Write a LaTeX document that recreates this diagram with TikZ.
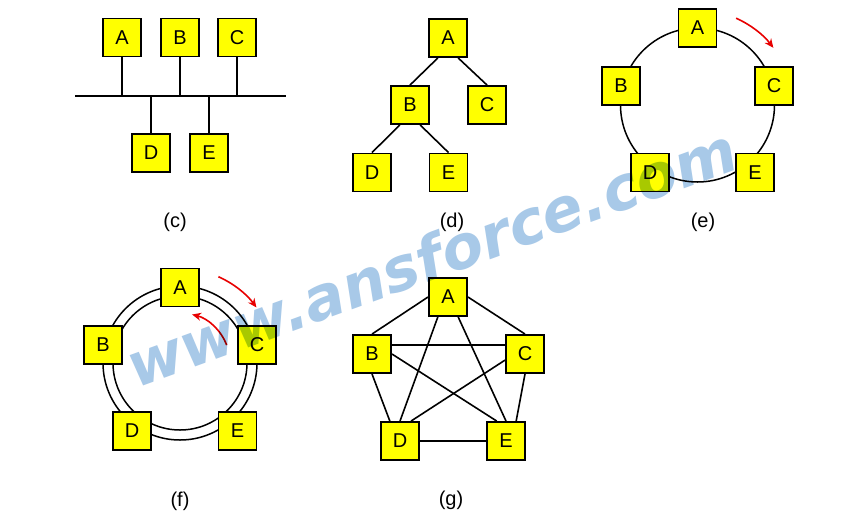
\documentclass[tikz,border=0pt]{standalone}
\usepackage{fontspec}
\setmainfont{Liberation Sans}
\newfontfamily\wmfont{DejaVu Sans}
\usetikzlibrary{arrows.meta}
\definecolor{boxyellow}{RGB}{255,255,0}
\definecolor{wmblue}{RGB}{168,201,232}
\definecolor{arrred}{RGB}{232,0,0}
\begin{document}
\begin{tikzpicture}[x=1pt,y=-1pt,
  nodebox/.style={draw=black, fill=boxyellow, line width=1.9pt, minimum width=38pt, minimum height=38pt, inner sep=0pt, font=\fontsize{20}{24}\selectfont},
  link/.style={line width=1.6pt},
  ring/.style={line width=1.5pt},
  caption/.style={font=\fontsize{20}{24}\selectfont},
  flow/.style={draw=arrred, line width=1.6pt, -{Stealth[length=9pt,width=8pt]}},
  watermark/.style={font=\wmfont\bfseries\itshape\fontsize{60.5}{66}\selectfont, text=wmblue, rotate=20, anchor=base}]
\useasboundingbox (0,0) rectangle (861,520);
\fill[white] (0,0) rectangle (861,520);

% (c) bus
\coordinate (busL) at (75,96);
\coordinate (busR) at (286,96);
\draw[link] (busL) -- (busR);
\node[nodebox] (cA) at (122,37.5) {A};
\node[nodebox] (cB) at (180,37.5) {B};
\node[nodebox] (cC) at (237,37.5) {C};
\node[nodebox] (cD) at (151,153) {D};
\node[nodebox] (cE) at (209,153) {E};
\foreach \n in {cA,cB,cC,cD,cE} \draw[link] (\n) -- (\n |- busL);
\node[caption] (capc) at (175,222) {(c)};

% (d) tree
\node[nodebox] (dA) at (448,38) {A};
\node[nodebox] (dB) at (410,105) {B};
\node[nodebox] (dC) at (487,105) {C};
\node[nodebox] (dD) at (372,172.5) {D};
\node[nodebox] (dE) at (448.5,172.5) {E};
\draw[link] (dA.243) -- (dB.north);
\draw[link] (dA.297) -- (dC.north);
\draw[link] (dB.243) -- (dD.north);
\draw[link] (dB.297) -- (dE.north);
\node[caption] (capd) at (452,222) {(d)};

% (e) ring
\draw[ring] (697.5,105) circle[radius=77];
\node[nodebox] (eA) at (697.5,28) {A};
\node[nodebox] (eB) at (621,86) {B};
\node[nodebox] (eC) at (774,86) {C};
\node[nodebox] (eD) at (650,172.5) {D};
\node[nodebox] (eE) at (755,172.5) {E};
\draw[flow] (736.1,18.2) arc[start angle=-66, end angle=-37, radius=95];
\node[caption] (cape) at (703,222) {(e)};

% (f) dual ring
\draw[ring] (180,363) circle[radius=77];
\draw[ring] (180,363) circle[radius=67];
\node[nodebox] (fA) at (180,287.5) {A};
\node[nodebox] (fB) at (103,345) {B};
\node[nodebox] (fC) at (257,345) {C};
\node[nodebox] (fD) at (132,431) {D};
\node[nodebox] (fE) at (237.5,431) {E};
\draw[flow] (218.4,276.7) arc[start angle=-66, end angle=-36, radius=94.5];
\draw[flow] (226.7,345.1) arc[start angle=-21, end angle=-76, radius=50];
\node[caption] (capf) at (180,501) {(f)};

% (g) mesh
\node[nodebox] (gA) at (448,297) {A};
\node[nodebox] (gB) at (372,354) {B};
\node[nodebox] (gC) at (525,354) {C};
\node[nodebox] (gD) at (400,441) {D};
\node[nodebox] (gE) at (506,441) {E};
\draw[link] (gA.west) -- (gB.north);
\draw[link] (gA.east) -- (gC.north);
\draw[link] (gA.243) -- (gD.north);
\draw[link] (gA.297) -- (gE.north);
\draw[link] (gB.25) -- (gC.155);
\draw[link] (gB.east) -- (gE.115);
\draw[link] (gC.197) -- (gD.61);
\draw[link] (gB.south) -- (gD.117);
\draw[link] (gC.south) -- (gE.63);
\draw[link] (gD.east) -- (gE.west);
\node[caption] (capg) at (451,500) {(g)};

% watermark
\begin{scope}[blend mode=multiply]
\node[watermark] (wm) at (439,278) {www.ansforce.com};
\end{scope}
\end{tikzpicture}
\end{document}
